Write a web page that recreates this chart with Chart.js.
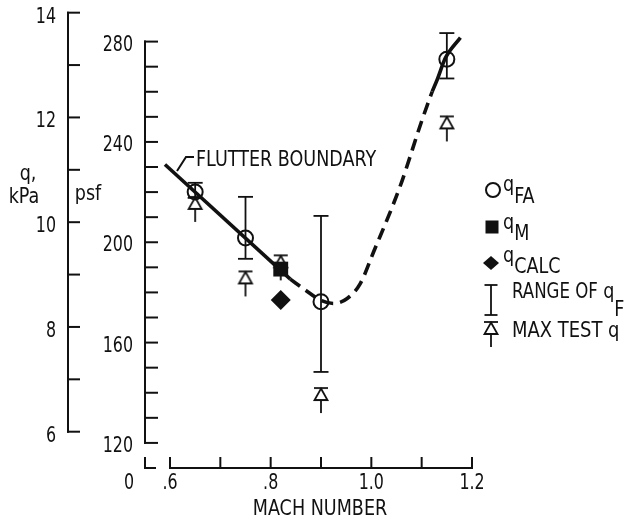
<!DOCTYPE html>
<html>
<head>
<meta charset="utf-8">
<script src="https://cdn.jsdelivr.net/npm/chart.js@4.4.1/dist/chart.umd.min.js"></script>
<style>
html, body { margin: 0; padding: 0; background: #fff; }
#wrap { width: 633px; height: 526px; }
</style>
</head>
<body>
<div id="wrap"><canvas id="flutterChart"></canvas></div>
<script>
// 축 눈금
const machTicks = [0.6, 0.7, 0.8, 0.9, 1.0, 1.1, 1.2];
const machLabels = ['.6', '', '.8', '', '1.0', '', '1.2'];
const psfTicks = [120, 130, 140, 150, 160, 170, 180, 190, 200, 210, 220, 230, 240, 250, 260, 270, 280];
const psfLabels = [120, 160, 200, 240, 280];
const kpaTicks = [6, 7, 8, 9, 10, 11, 12, 13, 14];
const kpaLabels = [6, 8, 10, 12, 14];

// 측정값 (psf)
const qfaMach = [0.65, 0.75, 0.90, 1.15];
const qfaPsf = [220, 201.7, 176.3, 273];
const qmMach = [0.82];
const qmPsf = [189.3];
const qcalcMach = [0.82];
const qcalcPsf = [177];
const rangeMach = [0.65, 0.75, 0.90, 1.15];
const rangeLow = [217.7, 193.4, 148.3, 265.3];
const rangeHigh = [223.7, 218.1, 210.5, 283.4];
const maxTestMach = [0.65, 0.75, 0.82, 0.90, 1.15];
const maxTestPsf = [213.3, 183.6, 190, 137.1, 245.4];

// 플러터 경계선 (실선 - 점선 - 실선)
const boundaryLowMach = [0.59, 0.839];
const boundaryLowPsf = [231, 185.3];
const boundaryDashMach = [0.839, 0.87, 0.90, 0.925, 0.952, 0.978, 1.004, 1.057, 1.101, 1.121];
const boundaryDashPsf = [185.3, 180.8, 176.8, 175.6, 177.6, 183.5, 195.9, 222.2, 248.9, 260.1];
const boundaryHighMach = [1.121, 1.131, 1.147, 1.177];
const boundaryHighPsf = [260.1, 264.9, 273.4, 281.6];

const INK = '#111';
const FONT = '"Liberation Sans Narrow", "DejaVu Sans Condensed", "Arial Narrow", sans-serif';
const FONT_SIZE = 21;
const TEXT_SX = 0.93;   // 글자 가로 비율
const NUM_SX = 0.84;    // 눈금 숫자 가로 비율

function pts(xs, ys) {
    return xs.map((x, i) => ({ x: x, y: ys[i] }));
}

// MAX TEST q 기호 (막대 + 삼각형 + 줄기)
function makeMaxTestGlyph() {
    const c = document.createElement('canvas');
    c.width = 18;
    c.height = 28;
    const g = c.getContext('2d');
    g.strokeStyle = INK;
    g.fillStyle = '#fff';
    g.lineWidth = 1.8;
    g.beginPath(); g.moveTo(2, 2); g.lineTo(16, 2); g.stroke();
    g.beginPath(); g.moveTo(9, 2.5); g.lineTo(15.5, 14); g.lineTo(2.5, 14); g.closePath(); g.fill(); g.stroke();
    g.beginPath(); g.moveTo(9, 14); g.lineTo(9, 27); g.stroke();
    return c;
}
const maxTestGlyph = makeMaxTestGlyph();

function seg(ctx, x1, y1, x2, y2) {
    ctx.beginPath();
    ctx.moveTo(x1, y1);
    ctx.lineTo(x2, y2);
    ctx.stroke();
}

// 가로로 좁힌 글자, 그린 폭을 돌려줌
function text(ctx, str, x, y, align, sx) {
    ctx.save();
    ctx.font = FONT_SIZE + 'px ' + FONT;
    ctx.textAlign = align;
    ctx.textBaseline = 'alphabetic';
    ctx.translate(x, y);
    ctx.scale(sx, 1);
    ctx.fillText(str, 0, 0);
    const w = ctx.measureText(str).width * sx;
    ctx.restore();
    return w;
}

// q + 아래첨자
function qText(ctx, x, yBase, sub, subBase) {
    const w = text(ctx, 'q', x, yBase, 'left', TEXT_SX);
    text(ctx, sub, x + w, subBase, 'left', TEXT_SX);
}

const axesPlugin = {
    id: 'flutterAxes',
    beforeDatasetsDraw(chart) {
        const { ctx, scales, chartArea } = chart;
        const x = scales.x, yp = scales.y, yk = scales.yk;
        ctx.save();
        ctx.strokeStyle = INK;
        ctx.fillStyle = INK;
        ctx.lineWidth = 2;
        ctx.lineCap = 'square';

        // kPa 축
        const kx = 68;
        seg(ctx, kx, yk.getPixelForValue(kpaTicks[0]), kx, yk.getPixelForValue(kpaTicks[kpaTicks.length - 1]));
        kpaTicks.forEach(v => {
            const py = yk.getPixelForValue(v);
            seg(ctx, kx, py, kx + 11, py);
        });
        kpaLabels.forEach(v => text(ctx, String(v), 56, yk.getPixelForValue(v) + 10, 'right', NUM_SX));

        // psf 축
        const px = 145;
        seg(ctx, px, yp.getPixelForValue(psfTicks[0]), px, yp.getPixelForValue(psfTicks[psfTicks.length - 1]));
        psfTicks.forEach(v => {
            const py = yp.getPixelForValue(v);
            seg(ctx, px, py, px + 12, py);
        });
        psfLabels.forEach(v => text(ctx, String(v), 133, yp.getPixelForValue(v) + 9, 'right', NUM_SX));

        // 축 절단 표시
        const by = chartArea.bottom;
        ctx.beginPath();
        ctx.moveTo(px, by - 10);
        ctx.lineTo(px, by);
        ctx.lineTo(px + 10, by);
        ctx.stroke();

        // 마하수 축
        seg(ctx, x.getPixelForValue(machTicks[0]), by, x.getPixelForValue(machTicks[machTicks.length - 1]), by);
        machTicks.forEach(v => {
            const xx = x.getPixelForValue(v);
            seg(ctx, xx, by, xx, by - 10);
        });
        machTicks.forEach((v, i) => {
            if (machLabels[i]) text(ctx, machLabels[i], x.getPixelForValue(v), by + 21, 'center', NUM_SX);
        });
        text(ctx, '0', 129, by + 21, 'center', NUM_SX);

        // 축 제목
        text(ctx, 'MACH NUMBER', 320, by + 47, 'center', TEXT_SX);
        text(ctx, 'q,', 28, 180, 'center', TEXT_SX);
        text(ctx, 'kPa', 24, 203, 'center', TEXT_SX);
        text(ctx, 'psf', 88, 200, 'center', TEXT_SX);

        // 경계선 이름표
        text(ctx, 'FLUTTER BOUNDARY', 196, 166, 'left', TEXT_SX);
        ctx.beginPath();
        ctx.moveTo(177, 171);
        ctx.lineTo(186, 157);
        ctx.lineTo(194, 157);
        ctx.lineCap = 'butt';
        ctx.stroke();
        ctx.restore();
    },
    afterDatasetsDraw(chart) {
        const { ctx } = chart;
        ctx.save();
        ctx.strokeStyle = INK;
        ctx.fillStyle = INK;
        ctx.lineWidth = 2;
        const lx = 491;

        // 범례 기호
        ctx.beginPath();
        ctx.arc(lx + 2, 190, 7, 0, Math.PI * 2);
        ctx.stroke();
        ctx.fillRect(lx - 5.5, 220.5, 13, 13);
        ctx.beginPath();
        ctx.moveTo(lx, 256); ctx.lineTo(lx + 8, 263); ctx.lineTo(lx, 270); ctx.lineTo(lx - 8, 263);
        ctx.closePath();
        ctx.fill();
        ctx.lineWidth = 1.8;
        seg(ctx, lx, 285, lx, 315);
        seg(ctx, lx - 6.5, 285, lx + 6.5, 285);
        seg(ctx, lx - 6.5, 315, lx + 6.5, 315);
        ctx.drawImage(maxTestGlyph, lx - 9, 320);

        // 범례 글자
        qText(ctx, 503, 191, 'FA', 203);
        qText(ctx, 503, 229, 'M', 240);
        qText(ctx, 503, 262, 'CALC', 273);
        const w = text(ctx, 'RANGE OF ', 512, 298, 'left', 0.88);
        qText(ctx, 512 + w, 298, 'F', 316);
        text(ctx, 'MAX TEST q', 512, 337, 'left', 0.95);
        ctx.restore();
    }
};

const datasets = [
    {
        label: 'qFA',
        data: pts(qfaMach, qfaPsf),
        showLine: false,
        pointStyle: 'circle',
        pointRadius: 7.5,
        pointBorderWidth: 2,
        pointBorderColor: INK,
        pointBackgroundColor: 'rgba(0,0,0,0)'
    },
    {
        label: 'qM',
        data: pts(qmMach, qmPsf),
        showLine: false,
        pointStyle: 'rect',
        pointRadius: 10.5,
        pointBorderWidth: 0,
        pointBackgroundColor: INK
    },
    {
        label: 'qCALC',
        data: pts(qcalcMach, qcalcPsf),
        showLine: false,
        pointStyle: 'rectRot',
        pointRadius: 10,
        pointBorderWidth: 0,
        pointBackgroundColor: INK
    },
    {
        label: 'MAX TEST q',
        data: pts(maxTestMach, maxTestPsf),
        showLine: false,
        pointStyle: maxTestGlyph
    }
];

// RANGE OF qF 오차 막대
rangeMach.forEach((m, i) => {
    datasets.push({
        label: 'RANGE OF qF',
        data: [{ x: m, y: rangeLow[i] }, { x: m, y: rangeHigh[i] }],
        showLine: true,
        borderColor: INK,
        borderWidth: 1.8,
        pointStyle: 'line',
        pointRadius: 7.5,
        pointBorderWidth: 1.8,
        pointBorderColor: INK
    });
});

const boundaryStyle = {
    showLine: true,
    borderColor: INK,
    borderWidth: 3.6,
    pointRadius: 0,
    borderCapStyle: 'butt',
    cubicInterpolationMode: 'monotone',
    clip: false
};
datasets.push(Object.assign({ label: 'FLUTTER BOUNDARY', data: pts(boundaryLowMach, boundaryLowPsf) }, boundaryStyle));
datasets.push(Object.assign({ label: 'FLUTTER BOUNDARY', data: pts(boundaryDashMach, boundaryDashPsf), borderDash: [12, 7] }, boundaryStyle));
datasets.push(Object.assign({ label: 'FLUTTER BOUNDARY', data: pts(boundaryHighMach, boundaryHighPsf) }, boundaryStyle));

new Chart(document.getElementById('flutterChart'), {
    type: 'scatter',
    data: { datasets: datasets },
    options: {
        responsive: true,
        maintainAspectRatio: false,
        animation: false,
        layout: { padding: { left: 170, right: 161, top: 12, bottom: 58 } },
        plugins: {
            legend: { display: false },
            tooltip: { enabled: false }
        },
        scales: {
            x: { type: 'linear', min: 0.6, max: 1.2, display: false },
            y: { type: 'linear', min: 110, max: 291.8, display: false },
            yk: { type: 'linear', min: 5.307, max: 14.013, display: false }
        }
    },
    plugins: [axesPlugin]
});
</script>
</body>
</html>
